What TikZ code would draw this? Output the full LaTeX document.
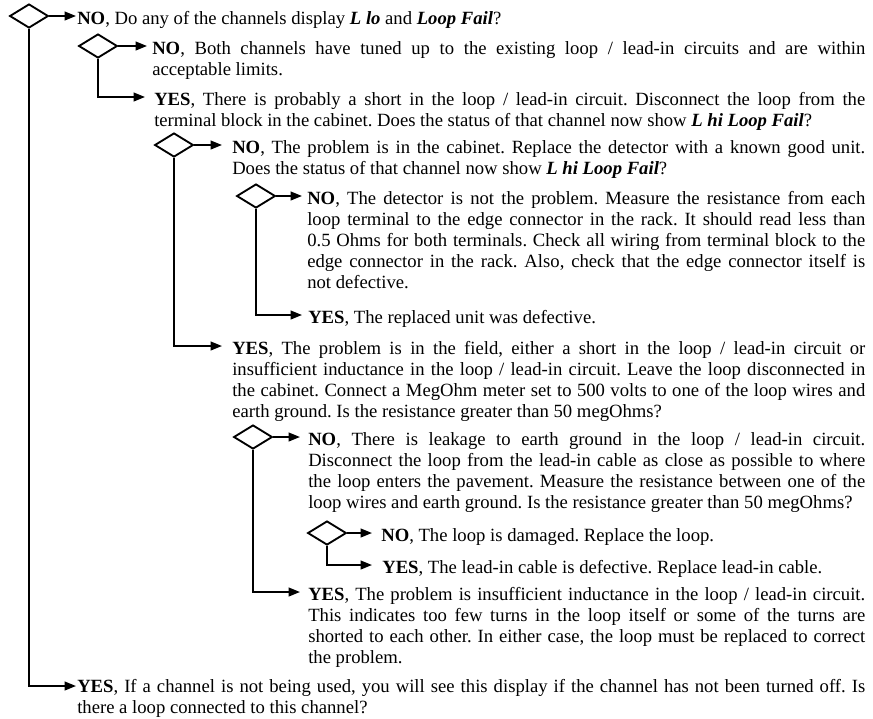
\documentclass[tikz,border=0pt]{standalone}
\usepackage{fontspec}
\setmainfont{Liberation Serif}
\usetikzlibrary{shapes.geometric,arrows.meta}
\newcommand\tfs{\fontsize{14pt}{15.75pt}\selectfont\frenchspacing}
\newcommand\bi[1]{\textbf{\textit{#1}}}
\hyphenpenalty=10000
\exhyphenpenalty=10000
\begin{document}
\begin{tikzpicture}[x=0.75pt,y=-0.75pt,
  dia/.style={draw, diamond, minimum width=29pt, minimum height=18pt, inner sep=0pt, line width=1.4pt},
  conn/.style={line width=1.4pt, -{Triangle[length=8.5pt,width=6.5pt]}},
  txt/.style={anchor=base west, inner sep=0pt, align=justify, font=\tfs, text width=#1}]
\useasboundingbox (0,0) rectangle (873,718);

% diamonds
\node[dia] (d1) at (29,16) {};
\node[dia] (d2) at (98,46) {};
\node[dia] (d3) at (174,145) {};
\node[dia] (d4) at (256,196) {};
\node[dia] (d5) at (253,437) {};
\node[dia] (d6) at (327,533) {};

% arrow tips
\coordinate (aA) at (76,16);
\coordinate (aB) at (147,46);
\coordinate (aC) at (145,97);
\coordinate (aD) at (222,145);
\coordinate (aE) at (302,196);
\coordinate (aF) at (302,315);
\coordinate (aG) at (222,346);
\coordinate (aH) at (300,437);
\coordinate (aI) at (372,533);
\coordinate (aJ) at (372,565);
\coordinate (aK) at (300,592);
\coordinate (aL) at (76,686);

% texts
\node[txt=591pt] (tA) at (77,24) {\textbf{NO}, Do any of the channels display \bi{L lo} and \bi{Loop Fail}?};
\node[txt=534.75pt] (tB) at (152,54) {\textbf{NO}, Both channels have tuned up to the existing loop / lead-in circuits and are within\linebreak acceptable limits.};
\node[txt=533.25pt] (tC) at (154,105) {\textbf{YES}, There is probably a short in the loop / lead-in circuit. Disconnect the loop from the\linebreak terminal block in the cabinet. Does the status of that channel now show \bi{L hi Loop Fail}?};
\node[txt=474.75pt] (tD) at (232,153) {\textbf{NO}, The problem is in the cabinet. Replace the detector with a known good unit.\linebreak Does the status of that channel now show \bi{L hi Loop Fail}?};
\node[txt=418.5pt] (tE) at (307,204) {\textbf{NO}, The detector is not the problem. Measure the resistance from each\linebreak loop terminal to the edge connector in the rack. It should read less than\linebreak 0.5 Ohms for both terminals. Check all wiring from terminal block to the\linebreak edge connector in the rack. Also, check that the edge connector itself is\linebreak not defective.};
\node[txt=417.75pt] (tF) at (308,323) {\textbf{YES}, The replaced unit was defective.};
\node[txt=474.75pt] (tG) at (232,354) {\textbf{YES}, The problem is in the field, either a short in the loop / lead-in circuit or\linebreak insufficient inductance in the loop / lead-in circuit. Leave the loop disconnected in\linebreak the cabinet. Connect a MegOhm meter set to 500 volts to one of the loop wires and\linebreak earth ground. Is the resistance greater than 50 megOhms?};
\node[txt=417.75pt] (tH) at (308,445) {\textbf{NO}, There is leakage to earth ground in the loop / lead-in circuit.\linebreak Disconnect the loop from the lead-in cable as close as possible to where\linebreak the loop enters the pavement. Measure the resistance between one of the\linebreak loop wires and earth ground. Is the resistance greater than 50 megOhms?};
\node[txt=363pt] (tI) at (381,541) {\textbf{NO}, The loop is damaged. Replace the loop.};
\node[txt=362pt] (tJ) at (382,573) {\textbf{YES}, The lead-in cable is defective. Replace lead-in cable.};
\node[txt=417.75pt] (tK) at (308,600) {\textbf{YES}, The problem is insufficient inductance in the loop / lead-in circuit.\linebreak This indicates too few turns in the loop itself or some of the turns are\linebreak shorted to each other. In either case, the loop must be replaced to correct\linebreak the problem.};
\node[txt=591pt] (tL) at (77,692) {\textbf{YES}, If a channel is not being used, you will see this display if the channel has not been turned off. Is\linebreak there a loop connected to this channel?};

% connectors
\draw[conn] (d1.east) -- (aA);
\draw[conn] (d1.south) |- (aL);
\draw[conn] (d2.east) -- (aB);
\draw[conn] (d2.south) |- (aC);
\draw[conn] (d3.east) -- (aD);
\draw[conn] (d3.south) |- (aG);
\draw[conn] (d4.east) -- (aE);
\draw[conn] (d4.south) |- (aF);
\draw[conn] (d5.east) -- (aH);
\draw[conn] (d5.south) |- (aK);
\draw[conn] (d6.east) -- (aI);
\draw[conn] (d6.south) |- (aJ);
\end{tikzpicture}
\end{document}
